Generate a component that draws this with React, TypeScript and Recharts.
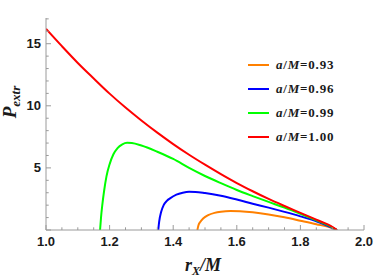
import { LineChart, Line, XAxis, YAxis, Legend } from "recharts";

// r_X/M values and P_extr values for each a/M
const orangeX = [1.476, 1.479, 1.485, 1.495, 1.51, 1.53, 1.55, 1.58, 1.61, 1.65, 1.7, 1.75, 1.8, 1.85, 1.9, 1.915];
const orangeP = [0, 0.35, 0.65, 0.95, 1.2, 1.38, 1.47, 1.52, 1.5, 1.42, 1.25, 1.02, 0.75, 0.47, 0.15, 0];

const blueX = [1.353, 1.356, 1.362, 1.37, 1.38, 1.39, 1.41, 1.43, 1.45, 1.47, 1.5, 1.55, 1.6, 1.65, 1.7, 1.75, 1.8, 1.85, 1.9, 1.915];
const blueP = [0, 0.7, 1.45, 2.0, 2.35, 2.55, 2.85, 3.0, 3.07, 3.06, 2.97, 2.75, 2.45, 2.12, 1.8, 1.46, 1.1, 0.7, 0.18, 0];

const greenX = [1.17, 1.173, 1.177, 1.183, 1.19, 1.2, 1.212, 1.225, 1.24, 1.255, 1.27, 1.3, 1.35, 1.4, 1.45, 1.5, 1.55, 1.6, 1.65, 1.7, 1.75, 1.8, 1.85, 1.9, 1.915];
const greenP = [0, 1.0, 2.0, 3.2, 4.3, 5.3, 6.1, 6.6, 6.9, 7.02, 7.0, 6.8, 6.3, 5.72, 5.0, 4.35, 3.77, 3.22, 2.73, 2.26, 1.8, 1.3, 0.78, 0.22, 0];

const redX = [1.0, 1.05, 1.1, 1.15, 1.2, 1.25, 1.3, 1.35, 1.4, 1.45, 1.5, 1.55, 1.6, 1.65, 1.7, 1.75, 1.8, 1.85, 1.9, 1.915];
const redP = [16.2, 14.8, 13.45, 12.2, 10.98, 9.86, 8.82, 7.84, 6.92, 6.06, 5.26, 4.5, 3.78, 3.12, 2.5, 1.93, 1.38, 0.83, 0.26, 0];

const xTicks = [1.0, 1.05, 1.1, 1.15, 1.2, 1.25, 1.3, 1.35, 1.4, 1.45, 1.5, 1.55, 1.6, 1.65, 1.7, 1.75, 1.8, 1.85, 1.9, 1.95, 2.0];
const xLabeled = [1.0, 1.2, 1.4, 1.6, 1.8, 2.0];
const yTicks = [0, 1, 2, 3, 4, 5, 6, 7, 8, 9, 10, 11, 12, 13, 14, 15, 16, 17];
const yLabeled = [5, 10, 15];

const toRows = (xs: number[], ps: number[]) => xs.map((x, i) => ({ x, p: ps[i] }));

const series = [
  { name: "0.93", color: "#ff8000", data: toRows(orangeX, orangeP) },
  { name: "0.96", color: "#0000ff", data: toRows(blueX, blueP) },
  { name: "0.99", color: "#00ff00", data: toRows(greenX, greenP) },
  { name: "1.00", color: "#ff0000", data: toRows(redX, redP) },
];

const FRAME = "#9a9a9a";
const near = (v: number, list: number[]) => list.some((t) => Math.abs(t - v) < 1e-6);
const tickFont = { fontFamily: "'Liberation Sans', Arial, sans-serif", fontWeight: 700, fontSize: 13, fill: "#1a1a1a" };
const serif = "'Liberation Serif', 'Times New Roman', serif";

function BottomTick({ x, y, payload }: any) {
  const major = near(payload.value, xLabeled);
  return (
    <g>
      <line x1={x} x2={x} y1={y} y2={y - (major ? 5 : 2.7)} stroke={FRAME} />
      {major && (
        <text x={x} y={y + 16} textAnchor="middle" {...tickFont}>
          {payload.value.toFixed(1)}
        </text>
      )}
    </g>
  );
}

function TopTick({ x, y, payload }: any) {
  const major = near(payload.value, xLabeled);
  return <line x1={x} x2={x} y1={y} y2={y + (major ? 5 : 2.7)} stroke={FRAME} />;
}

function LeftTick({ x, y, payload }: any) {
  const major = payload.value % 5 === 0;
  return (
    <g>
      <line x1={x} x2={x + (major ? 5 : 2.7)} y1={y} y2={y} stroke={FRAME} />
      {near(payload.value, yLabeled) && (
        <text x={x - 5} y={y + 4.5} textAnchor="end" {...tickFont}>
          {payload.value}
        </text>
      )}
    </g>
  );
}

function RightTick({ x, y, payload }: any) {
  const major = payload.value % 5 === 0;
  return <line x1={x} x2={x - (major ? 5 : 2.7)} y1={y} y2={y} stroke={FRAME} />;
}

const XTitle = () => (
  <text x={203} y={271} textAnchor="middle" fontFamily={serif} fontWeight={700} fontStyle="italic" fontSize={18} fill="#1a1a1a">
    r
    <tspan dy={4} fontSize={12}>X</tspan>
    <tspan dy={-4}>/M</tspan>
  </text>
);

const YTitle = () => (
  <text
    x={16}
    y={102}
    transform="rotate(-90, 16, 102)"
    textAnchor="middle"
    fontFamily={serif}
    fontWeight={700}
    fontStyle="italic"
    fontSize={19}
    fill="#1a1a1a"
  >
    P<tspan dy={4} fontSize={13}>extr</tspan>
  </text>
);

const renderLegend = () => (
  <div>
    {series.map((s) => (
      <div key={s.name} style={{ height: 24, display: "flex", alignItems: "center", whiteSpace: "nowrap" }}>
        <span style={{ display: "inline-block", width: 21, height: 2, background: s.color, marginRight: 7 }} />
        <span style={{ fontFamily: serif, fontWeight: 700, fontSize: 13, color: "#1a1a1a", letterSpacing: 0.8 }}>
          <i style={{ fontFamily: serif }}>a</i>/<i style={{ fontFamily: serif }}>M</i>={s.name}
        </span>
      </div>
    ))}
  </div>
);

export default function App() {
  return (
    <div style={{ position: "absolute", left: 0, top: 0 }}>
      <LineChart width={382} height={277} margin={{ top: 18, right: 18, bottom: 0, left: 0 }}>
        <XAxis
          xAxisId="b"
          type="number"
          dataKey="x"
          domain={[1, 2]}
          ticks={xTicks}
          interval={0}
          tickSize={0}
          tickMargin={0}
          tickLine={false}
          axisLine={{ stroke: FRAME }}
          tick={BottomTick}
          height={47}
          allowDataOverflow
          label={XTitle}
        />
        <XAxis
          xAxisId="t"
          orientation="top"
          type="number"
          dataKey="x"
          domain={[1, 2]}
          ticks={xTicks}
          interval={0}
          tickSize={0}
          tickMargin={0}
          tickLine={false}
          axisLine={{ stroke: FRAME }}
          tick={TopTick}
          height={0}
          allowDataOverflow
        />
        <YAxis
          yAxisId="l"
          type="number"
          domain={[0, 17.07]}
          ticks={yTicks}
          interval={0}
          tickSize={0}
          tickMargin={0}
          tickLine={false}
          axisLine={{ stroke: FRAME }}
          tick={LeftTick}
          width={46}
          allowDataOverflow
          label={YTitle}
        />
        <YAxis
          yAxisId="r"
          orientation="right"
          type="number"
          domain={[0, 17.07]}
          ticks={yTicks}
          interval={0}
          tickSize={0}
          tickMargin={0}
          tickLine={false}
          axisLine={{ stroke: FRAME }}
          tick={RightTick}
          width={0}
          allowDataOverflow
        />
        <Legend
          layout="vertical"
          align="center"
          verticalAlign="middle"
          content={renderLegend}
          wrapperStyle={{ position: "absolute", left: 248, top: 53, width: 110, height: 96 }}
        />
        {series.map((s) => (
          <Line
            key={s.name}
            xAxisId="b"
            yAxisId="l"
            data={s.data}
            dataKey="p"
            name={s.name}
            type="monotone"
            stroke={s.color}
            strokeWidth={2}
            dot={false}
            isAnimationActive={false}
          />
        ))}
      </LineChart>
    </div>
  );
}
